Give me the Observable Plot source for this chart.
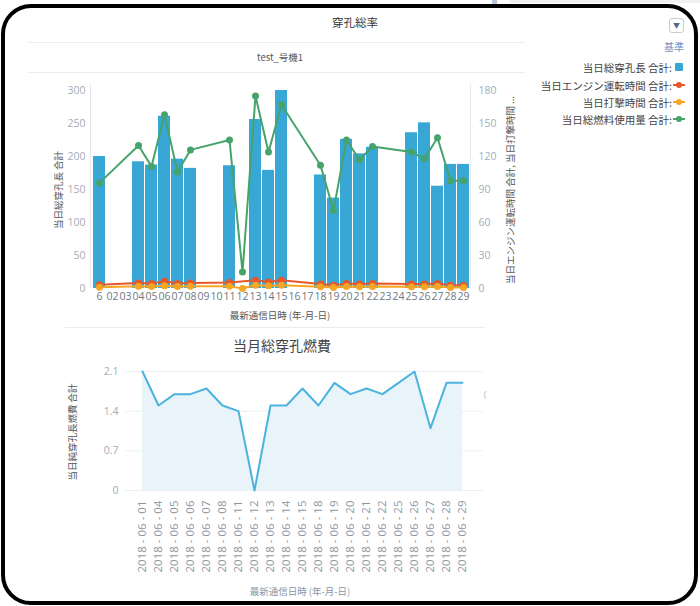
<!DOCTYPE html>
<html><head><meta charset="utf-8">
<script src="https://cdn.jsdelivr.net/npm/d3@7"></script>
<script src="https://cdn.jsdelivr.net/npm/@observablehq/plot@0.6"></script>
<style>
body{margin:0;background:#fff;font-family:"Open Sans","Noto Sans CJK JP",sans-serif;}
#page{position:relative;width:700px;height:606px;overflow:hidden;background:#fff;}
.abs{position:absolute;white-space:nowrap;}
.c{transform:translate(-50%,-50%);}
.rot{transform:translate(-50%,-50%) rotate(-90deg);}
.jp{font-family:"Noto Sans CJK JP","Open Sans",sans-serif;}
.leg{position:absolute;right:28px;font-size:10.5px;color:#444;transform:translateY(-50%);}
.sw{position:absolute;}
#topchart,#botchart{position:absolute;}
</style></head><body><div id="page">
<div class="abs" style="left:492px;top:0;width:5px;height:6px;background:#b9c6da"></div>
<div class="abs" style="left:510px;top:0;width:190px;height:3px;background:#eef1f4"></div>
<div class="abs" style="left:1px;top:4px;width:697px;height:601px;border:4px solid #000;border-radius:30px;box-sizing:border-box"></div>

<div class="abs c jp" style="left:355px;top:22px;font-size:11.5px;color:#3a3a3a">穿孔総率</div>
<div class="abs" style="left:669px;top:18px;width:15px;height:15px;border:1px solid #c9ccd1;border-radius:3px;box-sizing:border-box;font-size:7px;color:#4f6a8f;text-align:center;line-height:13px">▼</div>

<div class="abs" style="left:28px;top:42px;width:497px;height:31px;border-top:1px solid #ececec;border-bottom:1px solid #ececec;box-sizing:border-box"></div>
<div class="abs c jp" style="left:280px;top:57px;font-size:9.5px;color:#555">test_号機1</div>

<div class="abs jp" style="right:16px;top:46px;font-size:10px;color:#6f8fc0;transform:translateY(-50%)">基準</div>
<div id="legend"></div>

<div class="abs rot jp" style="left:58px;top:190px;font-size:9.5px;color:#555">当日総穿孔長 合計</div>
<div class="abs rot jp" style="left:510px;top:190px;font-size:9.5px;color:#555">当日エンジン運転時間 合計, 当日打撃時間 ...</div>
<div class="abs c jp" style="left:280px;top:315px;font-size:9.5px;color:#555">最新通信日時 (年-月-日)</div>
<div class="abs" style="left:65px;top:327px;width:420px;height:1px;background:#ececec"></div>

<div class="abs c jp" style="left:282px;top:345px;font-size:14px;color:#444">当月総穿孔燃費</div>
<div class="abs rot jp" style="left:72px;top:432px;font-size:9.5px;color:#555">当日純穿孔長燃費 合計</div>
<div class="abs c jp" style="left:300px;top:591px;font-size:9.5px;color:#8a96a6">最新通信日時 (年-月-日)</div>
<div class="abs c" style="left:485px;top:394px;font-size:9px;color:#b5bcc5">(</div>

<div id="topchart" style="left:40px;top:80px"></div>
<div id="botchart" style="left:0px;top:360px"></div>
</div>
<script>
// ---- top chart data ----
const days = ["01","02","03","04","05","06","07","08","09","10","11","12","13","14","15","16","17","18","19","20","21","22","23","24","25","26","27","28","29"];
const dayTickLabels = ["6","02","03","04","05","06","07","08","09","10","11","12","13","14","15","16","17","18","19","20","21","22","23","24","25","26","27","28","29"];
const barDays = ["01","04","05","06","07","08","11","13","14","15","18","19","20","21","22","25","26","27","28","29"];
const drillLength = [200,192,187,261,196,182,186,256,179,300,172,137,226,204,214,236,251,155,188,188];
const fuelDays = ["01","04","05","06","07","08","11","12","13","14","15","18","19","20","21","22","25","26","27","28","29"];
const fuelUsed = [96,130,111,158,106,126,135,15,175,124,167,112,71,135,117,129,124,118,137,98,98];
const engineDays = ["01","04","05","06","07","08","11","13","14","15","18","19","20","21","22","25","26","27","28","29"];
const engineHours = [3.5,5,4.5,6.5,4.5,5,5.5,7.5,6,7.5,4,3,4.5,4,4.5,4,4,4.5,3,3];
const strikeDays = ["01","04","05","06","07","08","11","12","13","14","15","18","19","20","21","22","25","26","27","28","29"];
const strikeHours = [1.2,2,1.8,2.5,1.8,2,2,0,3,2.5,3,1.5,1,1.8,1.5,1.8,1.5,1.5,1.8,1,1];
const leftTicks = [0,50,100,150,200,250,300];
const rightTicks = [0,30,60,90,120,150,180];
const leftMax = 300, rightMax = 180;

// ---- bottom chart data ----
const rateDates = ["2018 - 06 - 01","2018 - 06 - 04","2018 - 06 - 05","2018 - 06 - 06","2018 - 06 - 07","2018 - 06 - 08","2018 - 06 - 11","2018 - 06 - 12","2018 - 06 - 13","2018 - 06 - 14","2018 - 06 - 15","2018 - 06 - 18","2018 - 06 - 19","2018 - 06 - 20","2018 - 06 - 21","2018 - 06 - 22","2018 - 06 - 25","2018 - 06 - 26","2018 - 06 - 27","2018 - 06 - 28","2018 - 06 - 29"];
const fuelRate = [2.1,1.5,1.7,1.7,1.8,1.5,1.4,0,1.5,1.5,1.8,1.5,1.9,1.7,1.8,1.7,1.9,2.1,1.1,1.9,1.9];
const rateTicks = [0,0.7,1.4,2.1];

const legendItems = ["当日総穿孔長 合計:","当日エンジン運転時間 合計:","当日打撃時間 合計:","当日総燃料使用量 合計:"];
const colors = {bar:"#38a7d5", engine:"#e8562a", strike:"#f6a623", fuel:"#45a36b", rate:"#4bb3dd"};

// legend
const legendColors = [colors.bar, colors.engine, colors.strike, colors.fuel];
const legendY = [67,85,102,119];
const legend = document.getElementById("legend");
legendItems.forEach((t,i)=>{
  const el = document.createElement("div");
  el.className = "leg jp"; el.style.top = legendY[i]+"px"; el.textContent = t;
  legend.appendChild(el);
  if(i===0){
    const s=document.createElement("div"); s.className="sw";
    Object.assign(s.style,{left:"675px",top:(legendY[i]-4)+"px",width:"8px",height:"8px",background:legendColors[i],borderRadius:"1px"});
    legend.appendChild(s);
  } else {
    const l=document.createElement("div"); l.className="sw";
    Object.assign(l.style,{left:"673px",top:(legendY[i]-1)+"px",width:"12px",height:"2px",background:legendColors[i]});
    const d=document.createElement("div"); d.className="sw";
    Object.assign(d.style,{left:"676px",top:(legendY[i]-3)+"px",width:"6px",height:"6px",borderRadius:"50%",background:legendColors[i]});
    legend.appendChild(l); legend.appendChild(d);
  }
});

const k = leftMax / rightMax;
const rows = (ds, vs) => ds.map((d,i)=>({day:d, v:vs[i]}));
const bars = rows(barDays, drillLength);
const fuel = rows(fuelDays, fuelUsed);
const engine = rows(engineDays, engineHours);
const strike = rows(strikeDays, strikeHours);
const tickLab = new Map(days.map((d,i)=>[d, dayTickLabels[i]]));

const edges = (index, scales, values, dim) => {
  const g = d3.create("svg:g").attr("stroke","#e4e7eb");
  g.append("line").attr("x1",dim.marginLeft+0.5).attr("x2",dim.marginLeft+0.5).attr("y1",dim.marginTop-6).attr("y2",dim.height-dim.marginBottom);
  g.append("line").attr("x1",dim.width-dim.marginRight-0.5).attr("x2",dim.width-dim.marginRight-0.5).attr("y1",dim.marginTop-6).attr("y2",dim.height-dim.marginBottom);
  return g.node();
};

const topPlot = Plot.plot({
  width:480, height:228, marginLeft:50, marginRight:49, marginTop:10, marginBottom:20,
  style:{fontFamily:"'Open Sans',sans-serif", fontSize:"10.5px", color:"#a3acb8", background:"transparent", overflow:"visible"},
  x:{type:"band", domain:days, paddingInner:0.08, paddingOuter:0.03},
  y:{domain:[0,leftMax]},
  marks:[
    edges,
    Plot.barY(bars,{x:"day", y:"v", fill:colors.bar}),
    Plot.line(fuel,{x:"day", y:d=>d.v*k, stroke:colors.fuel, strokeWidth:2}),
    Plot.dot(fuel,{x:"day", y:d=>d.v*k, fill:colors.fuel, r:3.5}),
    Plot.line(engine,{x:"day", y:d=>d.v*k, stroke:colors.engine, strokeWidth:2}),
    Plot.line(strike,{x:"day", y:d=>d.v*k, stroke:colors.strike, strokeWidth:2}),
    Plot.dot(engine,{x:"day", y:d=>d.v*k, fill:colors.engine, r:3.5}),
    Plot.dot(strike,{x:"day", y:d=>d.v*k, fill:colors.strike, r:3.5}),
    Plot.axisY(leftTicks,{anchor:"left", tickSize:0, tickPadding:5, label:null}),
    Plot.axisY(rightTicks.map(t=>t*k),{anchor:"right", tickSize:0, tickPadding:7, tickFormat:d=>String(Math.round(d/k)), label:null}),
    Plot.axisX({tickSize:0, tickPadding:4, tickFormat:d=>tickLab.get(d), label:null, fill:"#6f7782"})
  ]
});
document.getElementById("topchart").appendChild(topPlot);

const rate = rateDates.map((d,i)=>({date:d, v:fuelRate[i]}));
const botPlot = Plot.plot({
  width:500, height:225, marginLeft:125, marginRight:17, marginTop:11, marginBottom:95,
  style:{fontFamily:"'Open Sans',sans-serif", fontSize:"10.5px", color:"#a3acb8", background:"transparent", overflow:"visible"},
  x:{type:"point", domain:rateDates, padding:0, insetLeft:7, insetRight:12},
  y:{domain:[0,2.1]},
  marks:[
    Plot.ruleY(rateTicks,{stroke:"#eceff2"}),
    Plot.areaY(rate,{x:"date", y:"v", fill:"#e8f4fa"}),
    Plot.lineY(rate,{x:"date", y:"v", stroke:colors.rate, strokeWidth:2}),
    Plot.axisY(rateTicks,{tickSize:0, tickPadding:7, tickFormat:d=>String(d), label:null}),
    Plot.axisX({tickRotate:-90, tickSize:0, tickPadding:10, label:null, fill:"#8e97a3", fontSize:"11.5px"})
  ]
});
document.getElementById("botchart").appendChild(botPlot);
</script>
</body></html>
